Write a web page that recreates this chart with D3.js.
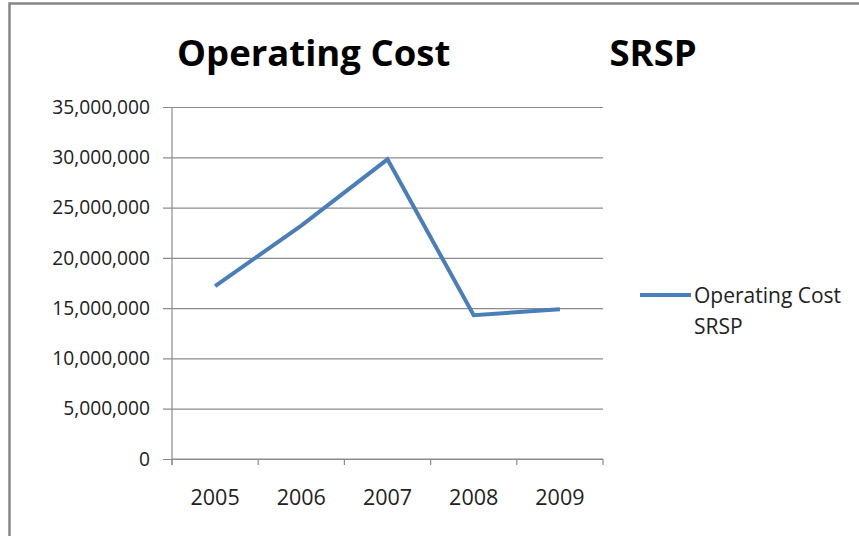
<!DOCTYPE html>
<html>
<head>
<meta charset="utf-8">
<script src="https://cdn.jsdelivr.net/npm/d3@7"></script>
<style>
  body { margin: 0; background: #fff; }
  text { font-family: "Open Sans", sans-serif; }
</style>
</head>
<body>
<div class="chart"></div>
<script>
var w = 859;
var h = 536;
var margin = {top: 107, right: 256, bottom: 77, left: 172};

var years = ["2005", "2006", "2007", "2008", "2009"];
var costs = [17200000, 23200000, 29800000, 14300000, 14900000];
var yTicks = [0, 5000000, 10000000, 15000000, 20000000, 25000000, 30000000, 35000000];
var seriesName = ["Operating Cost", "SRSP"];

var svg = d3.select(".chart")
            .append("svg")
            .attr("width", w)
            .attr("height", h);

// frame of the chart object
svg.append("rect")
   .attr("x", 9.5).attr("y", 3.5)
   .attr("width", 900).attr("height", 600)
   .attr("fill", "none")
   .attr("stroke", "#868686")
   .attr("stroke-width", 2.5);

// title
var title = svg.append("text")
   .attr("y", 66)
   .attr("font-size", 36.5)
   .attr("font-weight", "bold")
   .attr("fill", "#000");
title.append("tspan").attr("x", 177).text("Operating Cost");
title.append("tspan").attr("x", 600).text(" SRSP");

var pw = w - margin.left - margin.right;
var ph = h - margin.top - margin.bottom;

var xScale = d3.scaleBand()
    .domain(years)
    .range([0, pw]);

var yScale = d3.scaleLinear()
    .domain([0, 35000000])
    .range([ph, 0]);

var g = svg.append("g")
   .attr("transform", "translate(" + margin.left + "," + margin.top + ")");

// gridlines + y ticks
g.append("g")
   .call(d3.axisLeft(yScale).tickValues(yTicks).tickSize(-pw - 9).tickFormat(d3.format(",")).tickPadding(13))
   .attr("transform", "translate(-9,0)")
   .call(function (a) {
     a.select(".domain").remove();
     a.selectAll("line").attr("stroke", "#8c8c8c").attr("stroke-width", 1.2);
     a.selectAll("text").attr("font-size", 19.2).attr("fill", "#222");
   });

// y axis line
g.append("line")
   .attr("x1", 0).attr("x2", 0)
   .attr("y1", 0).attr("y2", ph + 6)
   .attr("stroke", "#8c8c8c").attr("stroke-width", 1.2);

// x axis
var xAxis = g.append("g")
   .attr("transform", "translate(0," + ph + ")");
xAxis.append("line")
   .attr("x1", 0).attr("x2", pw)
   .attr("stroke", "#8c8c8c").attr("stroke-width", 1.2);
xAxis.selectAll(".tick")
   .data(years.concat(["end"]))
   .enter()
   .append("line")
   .attr("x1", function (d, i) { return i * xScale.bandwidth(); })
   .attr("x2", function (d, i) { return i * xScale.bandwidth(); })
   .attr("y1", 0).attr("y2", 6)
   .attr("stroke", "#8c8c8c").attr("stroke-width", 1.2);
xAxis.selectAll(".yearLabel")
   .data(years)
   .enter()
   .append("text")
   .attr("class", "yearLabel")
   .attr("x", function (d) { return xScale(d) + xScale.bandwidth() / 2; })
   .attr("y", 46)
   .attr("text-anchor", "middle")
   .attr("font-size", 21.5)
   .attr("fill", "#222")
   .text(function (d) { return d; });

// line
var line = d3.line()
   .x(function (d, i) { return xScale(years[i]) + xScale.bandwidth() / 2; })
   .y(function (d) { return yScale(d); });

g.append("path")
   .datum(costs)
   .attr("d", line)
   .attr("fill", "none")
   .attr("stroke", "#4a7ebb")
   .attr("stroke-width", 4)
   .attr("stroke-linejoin", "miter");

// legend
var legend = svg.append("g").attr("transform", "translate(640,295)");
legend.append("line")
   .attr("x1", 0).attr("x2", 51)
   .attr("stroke", "#4a7ebb").attr("stroke-width", 4);
legend.selectAll("text")
   .data(seriesName)
   .enter()
   .append("text")
   .attr("x", 54)
   .attr("y", function (d, i) { return 8 + i * 31; })
   .attr("font-size", 21)
   .attr("fill", "#222")
   .text(function (d) { return d; });
</script>
</body>
</html>
